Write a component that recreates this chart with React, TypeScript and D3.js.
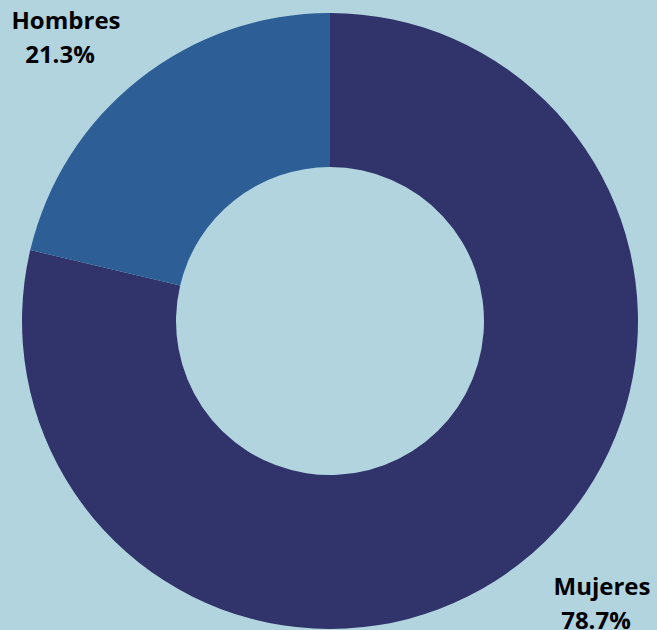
import React from "react";
import * as d3 from "d3";

const categories = ["Mujeres", "Hombres"];
const values = [78.7, 21.3];
const labels = ["78.7%", "21.3%"];
const colors = ["#31336b", "#2d5e96"];

const W = 657;
const H = 630;

export default function App() {
  const cx = 330;
  const cy = 321;
  const outerR = 308;
  const innerR = 154;

  const pie = d3.pie<number>().sort(null).value((d) => d);
  const arcs = pie(values);
  const arcGen = d3.arc<d3.PieArcDatum<number>>().innerRadius(innerR).outerRadius(outerR);

  const labelPos = [
    { x: 602, y: 595 },
    { x: 66, y: 29 },
  ];

  return (
    <svg
      width={W}
      height={H}
      style={{ position: "fixed", left: 0, top: 0, display: "block", background: "#b1d4df" }}
    >
      <rect x={0} y={0} width={W} height={H} fill="#b1d4df" />
      <g transform={`translate(${cx},${cy})`}>
        {arcs.map((a, i) => (
          <path key={categories[i]} d={arcGen(a) || ""} fill={colors[i]} />
        ))}
      </g>
      {categories.map((c, i) => (
        <text
          key={c}
          x={labelPos[i].x}
          y={labelPos[i].y}
          textAnchor="middle"
          fontFamily="'Open Sans', 'Noto Sans', sans-serif"
          fontWeight={700}
          fontSize={24}
          fill="#000"
        >
          <tspan x={labelPos[i].x} dy={0}>{c}</tspan>
          <tspan x={labelPos[i].x - 6} dy={34}>{labels[i]}</tspan>
        </text>
      ))}
    </svg>
  );
}
